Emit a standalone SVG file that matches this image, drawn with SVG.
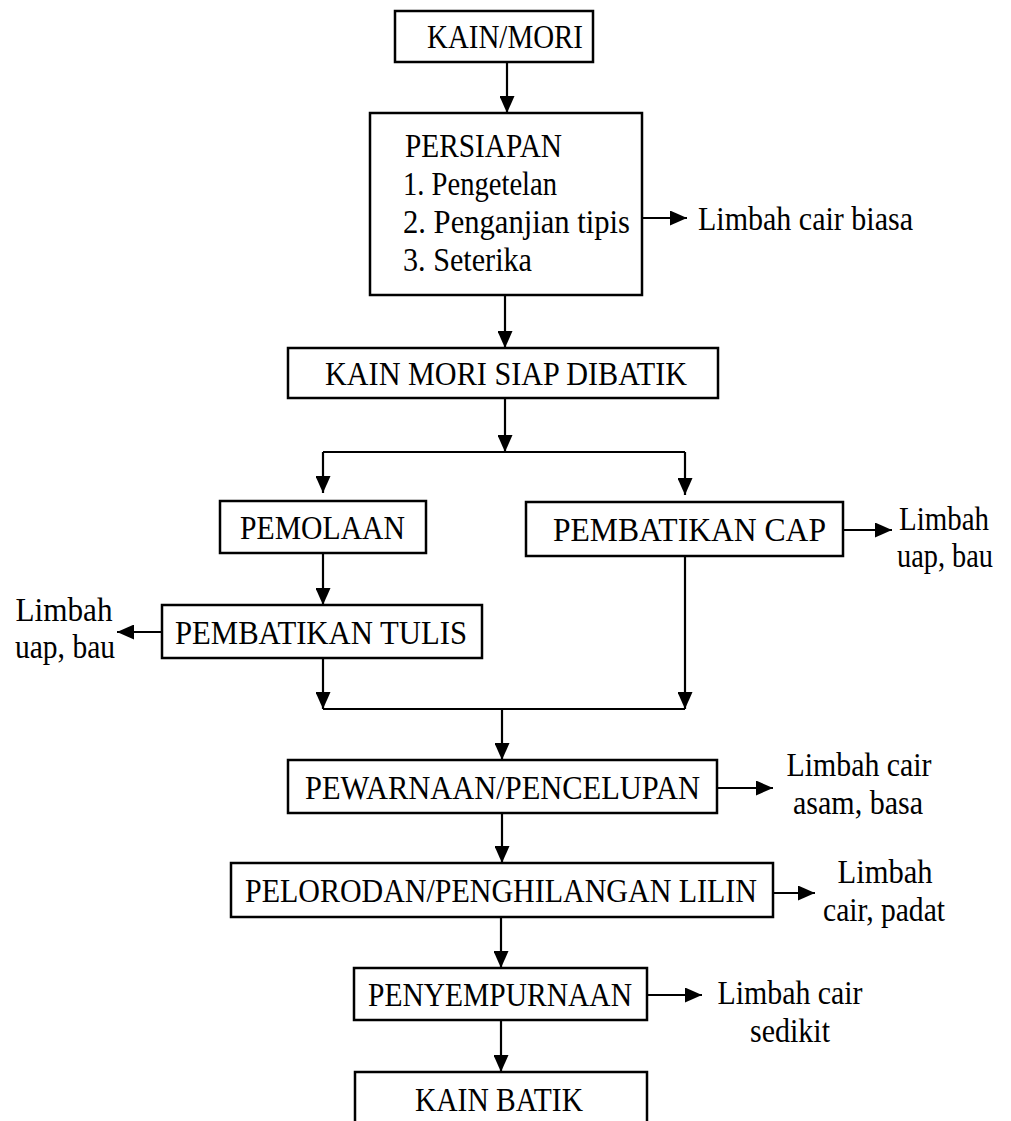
<svg xmlns="http://www.w3.org/2000/svg" width="1011" height="1121" viewBox="0 0 1011 1121">
<style>
.box{fill:#fff;stroke:#000;stroke-width:2.5}
.t{font-family:"Liberation Serif","Times New Roman",serif;font-size:34px;fill:#000}
.m{text-anchor:middle}
.c{fill:none;stroke:#000;stroke-width:2.2}
</style>
<defs>
<marker id="ah" viewBox="0 0 17 15" refX="17" refY="7.5" markerWidth="17" markerHeight="15" markerUnits="userSpaceOnUse" orient="auto">
<path d="M0,0 L17,7.5 L0,15 z" fill="#000"/>
</marker>
</defs>
<rect width="1011" height="1121" fill="#fff"/>
<g id="connectors">
<line class="c" x1="507" y1="62" x2="507" y2="113" marker-end="url(#ah)"/>
<line class="c" x1="642" y1="218" x2="687" y2="218" marker-end="url(#ah)"/>
<line class="c" x1="505" y1="295" x2="505" y2="348" marker-end="url(#ah)"/>
<line class="c" x1="505" y1="398" x2="505" y2="452" marker-end="url(#ah)"/>
<polyline class="c" points="323,452 685,452"/>
<line class="c" x1="323" y1="452" x2="323" y2="493" marker-end="url(#ah)"/>
<line class="c" x1="685" y1="452" x2="685" y2="495" marker-end="url(#ah)"/>
<line class="c" x1="323" y1="553" x2="323" y2="605" marker-end="url(#ah)"/>
<line class="c" x1="162" y1="632" x2="117" y2="632" marker-end="url(#ah)"/>
<line class="c" x1="843" y1="530" x2="892" y2="530" marker-end="url(#ah)"/>
<line class="c" x1="323" y1="658" x2="323" y2="709" marker-end="url(#ah)"/>
<line class="c" x1="685" y1="556" x2="685" y2="709" marker-end="url(#ah)"/>
<polyline class="c" points="323,709 685,709"/>
<line class="c" x1="502" y1="709" x2="502" y2="760" marker-end="url(#ah)"/>
<line class="c" x1="717" y1="788" x2="773" y2="788" marker-end="url(#ah)"/>
<line class="c" x1="502" y1="813" x2="502" y2="863" marker-end="url(#ah)"/>
<line class="c" x1="773" y1="893" x2="815" y2="893" marker-end="url(#ah)"/>
<line class="c" x1="501" y1="917" x2="501" y2="968" marker-end="url(#ah)"/>
<line class="c" x1="647" y1="995" x2="702" y2="995" marker-end="url(#ah)"/>
<line class="c" x1="501" y1="1020" x2="501" y2="1072" marker-end="url(#ah)"/>
</g>
<g id="kain-mori">
<rect class="box" x="395" y="11" width="198" height="51"/>
<text class="t" x="427" y="48" textLength="156" lengthAdjust="spacingAndGlyphs">KAIN/MORI</text>
</g>
<g id="persiapan">
<rect class="box" x="370" y="113" width="272" height="182"/>
<text class="t" x="405" y="157" textLength="157" lengthAdjust="spacingAndGlyphs">PERSIAPAN</text>
<text class="t" x="403" y="195" textLength="154" lengthAdjust="spacingAndGlyphs">1. Pengetelan</text>
<text class="t" x="403" y="233" textLength="227" lengthAdjust="spacingAndGlyphs">2. Penganjian tipis</text>
<text class="t" x="403" y="271" textLength="129" lengthAdjust="spacingAndGlyphs">3. Seterika</text>
</g>
<g id="limbah-biasa">
<text class="t" x="698" y="230" textLength="215" lengthAdjust="spacingAndGlyphs">Limbah cair biasa</text>
</g>
<g id="siap-dibatik">
<rect class="box" x="288" y="348" width="430" height="50"/>
<text class="t" x="325" y="385" textLength="362" lengthAdjust="spacingAndGlyphs">KAIN MORI SIAP DIBATIK</text>
</g>
<g id="pemolaan">
<rect class="box" x="220" y="501" width="206" height="52"/>
<text class="t" x="240" y="539" textLength="165" lengthAdjust="spacingAndGlyphs">PEMOLAAN</text>
</g>
<g id="pembatikan-cap">
<rect class="box" x="526" y="502" width="317" height="54"/>
<text class="t" x="553" y="541" textLength="273" lengthAdjust="spacingAndGlyphs">PEMBATIKAN CAP</text>
</g>
<g id="limbah-cap">
<text class="t m" x="944" y="530" textLength="90" lengthAdjust="spacingAndGlyphs">Limbah</text>
<text class="t m" x="945" y="567" textLength="96" lengthAdjust="spacingAndGlyphs">uap, bau</text>
</g>
<g id="pembatikan-tulis">
<rect class="box" x="162" y="605" width="320" height="53"/>
<text class="t" x="175" y="644" textLength="292" lengthAdjust="spacingAndGlyphs">PEMBATIKAN TULIS</text>
</g>
<g id="limbah-tulis">
<text class="t m" x="64" y="621" textLength="97" lengthAdjust="spacingAndGlyphs">Limbah</text>
<text class="t m" x="65" y="658" textLength="100" lengthAdjust="spacingAndGlyphs">uap, bau</text>
</g>
<g id="pewarnaan">
<rect class="box" x="288" y="760" width="429" height="53"/>
<text class="t" x="305" y="799" textLength="395" lengthAdjust="spacingAndGlyphs">PEWARNAAN/PENCELUPAN</text>
</g>
<g id="limbah-pewarnaan">
<text class="t m" x="859" y="776" textLength="145" lengthAdjust="spacingAndGlyphs">Limbah cair</text>
<text class="t m" x="858" y="814" textLength="130" lengthAdjust="spacingAndGlyphs">asam, basa</text>
</g>
<g id="pelorodan">
<rect class="box" x="231" y="863" width="542" height="54"/>
<text class="t" x="245" y="902" textLength="512" lengthAdjust="spacingAndGlyphs">PELORODAN/PENGHILANGAN LILIN</text>
</g>
<g id="limbah-pelorodan">
<text class="t m" x="885" y="883" textLength="95" lengthAdjust="spacingAndGlyphs">Limbah</text>
<text class="t m" x="884" y="921" textLength="122" lengthAdjust="spacingAndGlyphs">cair, padat</text>
</g>
<g id="penyempurnaan">
<rect class="box" x="354" y="968" width="293" height="52"/>
<text class="t" x="368" y="1006" textLength="264" lengthAdjust="spacingAndGlyphs">PENYEMPURNAAN</text>
</g>
<g id="limbah-penyempurnaan">
<text class="t m" x="790" y="1004" textLength="145" lengthAdjust="spacingAndGlyphs">Limbah cair</text>
<text class="t m" x="790" y="1042" textLength="80" lengthAdjust="spacingAndGlyphs">sedikit</text>
</g>
<g id="kain-batik">
<rect class="box" x="355" y="1072" width="292" height="70"/>
<text class="t" x="415" y="1111" textLength="168" lengthAdjust="spacingAndGlyphs">KAIN BATIK</text>
</g>
</svg>
